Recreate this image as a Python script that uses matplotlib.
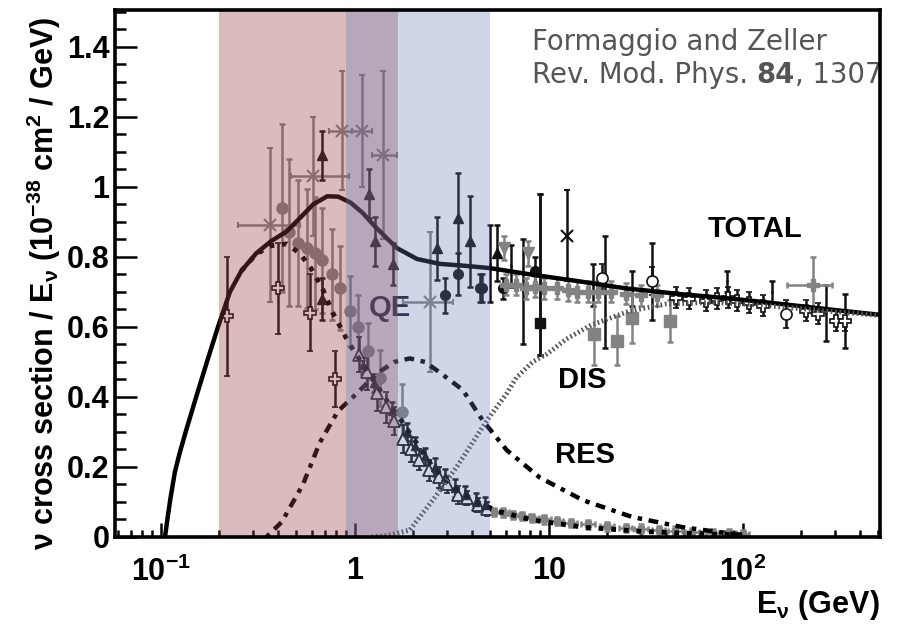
import matplotlib
matplotlib.use('Agg')
import matplotlib.pyplot as plt
from matplotlib.ticker import FixedLocator, FixedFormatter, LogLocator, MultipleLocator, FuncFormatter, NullFormatter

plt.rcParams['font.family'] = 'Liberation Sans'
plt.rcParams['font.weight'] = 'bold'
plt.rcParams['mathtext.fontset'] = 'custom'
plt.rcParams['mathtext.rm'] = 'Liberation Sans:bold'
plt.rcParams['mathtext.bf'] = 'Liberation Sans:bold'
plt.rcParams['mathtext.it'] = 'Liberation Sans:bold'
plt.rcParams['mathtext.default'] = 'rm'

# %% model curves
tot_e = [0.105, 0.108, 0.112, 0.118, 0.125, 0.135, 0.153, 0.175, 0.197, 0.227, 0.26, 0.31, 0.37, 0.446,
         0.53, 0.61, 0.72, 0.82, 0.95, 1.1, 1.24, 1.45, 1.65, 2.09, 2.74, 3.6, 4.96, 8, 14.4, 25, 47, 90,
         155, 300, 500]
tot_y = [0, 0.05, 0.11, 0.185, 0.24, 0.305, 0.405, 0.51, 0.6, 0.70, 0.76, 0.81, 0.845, 0.873,
         0.915, 0.95, 0.973, 0.972, 0.955, 0.925, 0.893, 0.855, 0.825, 0.794, 0.78, 0.775, 0.768, 0.75,
         0.73, 0.71, 0.694, 0.68, 0.666, 0.648, 0.635]

qe_e = [0.26, 0.31, 0.37, 0.446, 0.52, 0.59, 0.68, 0.77, 0.87, 0.94, 1.02, 1.24, 1.5, 1.7, 2.1, 2.52,
        3.2, 4.06, 5.5, 8.3, 15, 30, 60, 100]
qe_y = [0.76, 0.808, 0.832, 0.837, 0.81, 0.77, 0.71, 0.64, 0.585, 0.55, 0.52, 0.45, 0.38, 0.34, 0.265,
        0.2, 0.145, 0.105, 0.073, 0.048, 0.028, 0.016, 0.009, 0.006]

res_e = [0.35, 0.42, 0.54, 0.66, 0.82, 0.98, 1.3, 1.6, 1.92, 2.3, 2.74, 3.6, 4.56, 6.07, 8.97, 15, 27, 49, 100]
res_y = [0, 0.043, 0.15, 0.27, 0.36, 0.40, 0.467, 0.5, 0.51, 0.50, 0.47, 0.42, 0.333, 0.248, 0.17,
         0.105, 0.057, 0.028, 0.005]

dis_e = [1.22, 1.5, 1.92, 2.52, 3.35, 4.8, 6.07, 6.8, 8.25, 9.8, 12.3, 16.5, 26, 40, 70, 120, 250, 500]
dis_y = [0, 0.005, 0.02, 0.105, 0.2, 0.333, 0.41, 0.455, 0.5, 0.523, 0.565, 0.605, 0.645, 0.665,
         0.67, 0.663, 0.647, 0.633]

# %% data points
# gray circles, low energy
gc_e = [0.42, 0.46, 0.51, 0.57, 0.62, 0.68, 0.76, 0.84, 0.94, 1.04, 1.17, 1.35, 1.75]
gc_y = [0.94, 0.87, 0.84, 0.825, 0.81, 0.79, 0.75, 0.71, 0.646, 0.60, 0.53, 0.455, 0.356]
gc_err = [0.24, 0.21, 0.18, 0.17, 0.16, 0.15, 0.13, 0.12, 0.10, 0.09, 0.08, 0.08, 0.08]

# gray asterisks with energy bins
gs_e = [0.365, 0.61, 0.86, 1.09, 1.39, 2.43]
gs_y = [0.89, 1.03, 1.16, 1.16, 1.09, 0.67]
gs_err = [0.22, 0.17, 0.17, 0.16, 0.24, 0.2]
gs_lo = [0.25, 0.47, 0.74, 0.97, 1.22, 1.77]
gs_hi = [0.52, 0.93, 0.97, 1.22, 1.65, 3.2]

# black up triangles
bt_e = [0.68, 0.68, 1.19, 1.27, 1.57, 2.64, 3.39, 3.92, 5.4]
bt_y = [1.09, 0.68, 0.98, 0.845, 0.78, 0.825, 0.91, 0.845, 0.81]
bt_err = [0.07, 0.06, 0.07, 0.07, 0.06, 0.09, 0.13, 0.13, 0.08]

# black open crosses, low energy
oc_e = [0.22, 0.40, 0.59, 0.79]
oc_y = [0.63, 0.71, 0.64, 0.45]
oc_err = [0.17, 0.13, 0.11, 0.08]

# QE data, open triangles and filled triangles
qt_e = [1.05, 1.15, 1.3, 1.45, 1.6, 1.77, 1.95, 2.15, 2.4, 2.7, 3.0, 3.4, 3.8, 4.3, 4.8]
qt_y = [0.52, 0.47, 0.41, 0.37, 0.33, 0.28, 0.25, 0.22, 0.19, 0.17, 0.15, 0.12, 0.11, 0.09, 0.08]
qt_err = [0.05, 0.05, 0.05, 0.045, 0.04, 0.04, 0.035, 0.03, 0.03, 0.03, 0.025, 0.025, 0.02, 0.02, 0.02]
qb_e = [1.1, 1.25, 1.55, 1.85, 2.05, 2.3, 2.6, 2.9, 3.3, 3.7, 4.2, 4.7]
qb_y = [0.49, 0.44, 0.36, 0.30, 0.26, 0.23, 0.20, 0.17, 0.14, 0.12, 0.10, 0.09]

# QE tail at high energy
lq_e = [5.2, 5.8, 6.5, 7.3, 8.2, 9.5, 11, 13, 16, 20, 25, 30, 37, 45, 55, 70, 85, 100]
lq_y = [0.072, 0.07, 0.062, 0.06, 0.055, 0.05, 0.045, 0.04, 0.036, 0.03, 0.026, 0.024, 0.02, 0.018,
        0.015, 0.012, 0.01, 0.008]

# black bars along total
bb_e = [4.96, 6.42, 7.35, 9.0, 16.8, 19.5, 26.8, 34, 82.6, 142, 270, 335]
bb_y = [0.78, 0.775, 0.70, 0.75, 0.72, 0.70, 0.71, 0.73, 0.73, 0.70, 0.64, 0.617]
bb_err = [0.11, 0.06, 0.15, 0.23, 0.06, 0.16, 0.05, 0.11, 0.03, 0.03, 0.08, 0.077]

# black circles / square / star
bc_e = [2.9, 3.4, 4.4, 4.5, 5.8, 8.5]
bc_y = [0.69, 0.75, 0.71, 0.71, 0.71, 0.76]
bc_err = [0.05, 0.06, 0.04, 0.04, 0.03, 0.04]
bs_e = [9.0]
bs_y = [0.61]
bx_e = [12.4]
bx_y = [0.86]
bx_err = [0.13]

# gray points along total
gt_e = [5.9, 7.8]
gt_y = [0.825, 0.81]
gp_e = [6.0, 6.8, 7.6, 8.5, 9.5, 11, 12.5, 14, 16, 18, 21, 25, 30, 36]
gp_y = [0.72, 0.72, 0.71, 0.715, 0.71, 0.71, 0.705, 0.70, 0.70, 0.70, 0.70, 0.695, 0.69, 0.69]
gq_e = [17.2, 22.4, 27, 42]
gq_y = [0.58, 0.56, 0.625, 0.617]
gq_err = [0.09, 0.07, 0.07, 0.06]
gx_e = [229]
gx_y = [0.72]

# open markers at high energy
hc_e = [45.5, 53, 65, 74, 84, 93, 108, 127, 213, 243, 303, 335]
hc_y = [0.683, 0.68, 0.674, 0.68, 0.683, 0.674, 0.669, 0.66, 0.646, 0.637, 0.617, 0.617]
ho_e = [18.8, 34, 168]
ho_y = [0.74, 0.73, 0.637]

fig = plt.figure(figsize=(9.12, 6.33), dpi=100)
ax = fig.add_axes([115/912, 1-537/633, 765/912, 527/633])
ax.set_xscale('log')
ax.set_xlim(0.058, 510)
ax.set_ylim(0, 1.505)

gray = '#838383'
blk = '#111111'
eb = dict(capsize=2.5, elinewidth=1.8, capthick=1.8, ls='none', zorder=2)

ax.errorbar(gc_e, gc_y, yerr=gc_err, fmt='o', color=gray, ms=8, **eb)
ax.errorbar(gs_e, gs_y, yerr=gs_err,
            xerr=[[e-l for e, l in zip(gs_e, gs_lo)], [h-e for e, h in zip(gs_e, gs_hi)]],
            fmt='x', color=gray, ms=9, mew=1.5, **eb)
ax.errorbar(bt_e, bt_y, yerr=bt_err, fmt='^', color=blk, ms=7, **eb)
ax.errorbar(oc_e, oc_y, yerr=oc_err, fmt='P', color=blk, mfc='white', ms=9, mew=1.2, **eb)
ax.errorbar(qt_e, qt_y, yerr=qt_err, fmt='^', color=blk, mfc='white', ms=8, mew=1.3, **eb)
ax.errorbar(qb_e, qb_y, yerr=0.025, fmt='^', color=blk, ms=6, **eb)
ax.errorbar(lq_e, lq_y, yerr=0.012, xerr=[[e*0.08 for e in lq_e], [e*0.08 for e in lq_e]],
            fmt='s', color=gray, ms=5, **eb)
ax.errorbar(bb_e, bb_y, yerr=bb_err, fmt='.', color=blk, ms=2, **eb)
ax.errorbar(bc_e, bc_y, yerr=bc_err, fmt='o', color=blk, ms=7, **eb)
ax.errorbar(bs_e, bs_y, yerr=[[0.09], [0.37]], fmt='s', color=blk, ms=7, **eb)
ax.errorbar(bx_e, bx_y, yerr=bx_err, fmt='x', color=blk, ms=9, mew=1.5, **eb)
ax.errorbar(gt_e, gt_y, yerr=0.035, fmt='v', color=gray, ms=8, **eb)
ax.errorbar(gp_e, gp_y, yerr=0.03, fmt='P', color=gray, ms=8, **eb)
ax.errorbar(gq_e, gq_y, yerr=gq_err, fmt='s', color=gray, ms=8, **eb)
ax.errorbar(gx_e, gx_y, yerr=0.08, xerr=[[59], [61]], fmt='P', color=gray, ms=9, **eb)
ax.errorbar(hc_e, hc_y, yerr=0.03, fmt='P', color=blk, mfc='white', ms=9, mew=1.2, **eb)
ax.errorbar(ho_e, ho_y, yerr=0.04, fmt='o', color=blk, mfc='white', ms=8, mew=1.2, **eb)

# curves
ax.plot(tot_e, tot_y, color='black', lw=3.2, zorder=3, solid_capstyle='round', solid_joinstyle='round')
ax.plot(qe_e, qe_y, color='black', lw=3.5, ls=(0, (1, 1.6)), zorder=3)
ax.plot(res_e, res_y, color='black', lw=3.2, ls=(0, (1, 1.5, 2.2, 1.5)), zorder=3)
ax.plot(dis_e, dis_y, color='#555555', lw=3.5, ls=(0, (0.35, 0.55)), zorder=3)

ax.text(1.51, 0.654, 'QE', fontsize=21, ha='center', va='center', color='#1a1a2a', zorder=3)

# shaded energy ranges drawn over everything
ax.axvspan(0.2, 1.67, color=(155/255, 61/255, 69/255), alpha=0.35, lw=0, zorder=4)
ax.axvspan(0.9, 5.0, color=(98/255, 122/255, 178/255), alpha=0.3, lw=0, zorder=4)

ax.text(115, 0.88, 'TOTAL', fontsize=21, ha='center', va='center', zorder=5)
ax.text(14.8, 0.447, 'DIS', fontsize=21, ha='center', va='center', zorder=5)
ax.text(15.3, 0.233, 'RES', fontsize=21, ha='center', va='center', zorder=5)

# attribution
t1 = ax.text(0.545, 0.924, 'Formaggio and Zeller', transform=ax.transAxes, fontsize=19.8,
             family='DejaVu Sans', weight='normal', color='#555555', zorder=6)
t2 = ax.text(0.545, 0.861, 'Rev. Mod. Phys. ', transform=ax.transAxes, fontsize=19.8,
             family='DejaVu Sans', weight='normal', color='#555555', zorder=6)
t3 = ax.annotate('84', xy=(1, 0), xycoords=t2, va='bottom', fontsize=19.8,
                 family='DejaVu Sans', weight='bold', color='#555555', zorder=6)
ax.annotate(', 1307', xy=(1, 0), xycoords=t3, va='bottom', fontsize=19.8,
            family='DejaVu Sans', weight='normal', color='#555555', zorder=6)

# axes styling
for s in ax.spines.values():
    s.set_linewidth(2.6)
    s.set_zorder(7)
ax.xaxis.set_major_locator(FixedLocator([0.1, 1, 10, 100]))
ax.xaxis.set_major_formatter(FixedFormatter([r'$10^{-1}$', '1', '10', r'$10^{2}$']))
ax.xaxis.set_minor_locator(LogLocator(base=10, subs=range(2, 10), numticks=20))
ax.xaxis.set_minor_formatter(NullFormatter())
ax.yaxis.set_major_locator(MultipleLocator(0.2))
ax.yaxis.set_minor_locator(MultipleLocator(0.05))
ax.yaxis.set_major_formatter(FuncFormatter(lambda v, p: f'{v:g}'))
ax.tick_params(axis='both', which='both', direction='in', top=False, right=False, width=1.8)
ax.tick_params(axis='y', which='major', length=16, pad=4, labelsize=22)
ax.tick_params(axis='y', which='minor', length=8)
ax.tick_params(axis='x', which='major', length=10, pad=14, labelsize=22)
ax.tick_params(axis='x', which='minor', length=5)

ax.set_ylabel(r'$\nu$ cross section / E$_{\nu}$ (10$^{-38}$ cm$^{2}$ / GeV)', fontsize=22,
              fontweight='bold')
ax.yaxis.set_label_coords(-0.068, 0.482)
ax.set_xlabel(r'E$_{\nu}$ (GeV)', fontsize=22, fontweight='bold', loc='right', labelpad=0)

plt.savefig('out.png', dpi=100)
